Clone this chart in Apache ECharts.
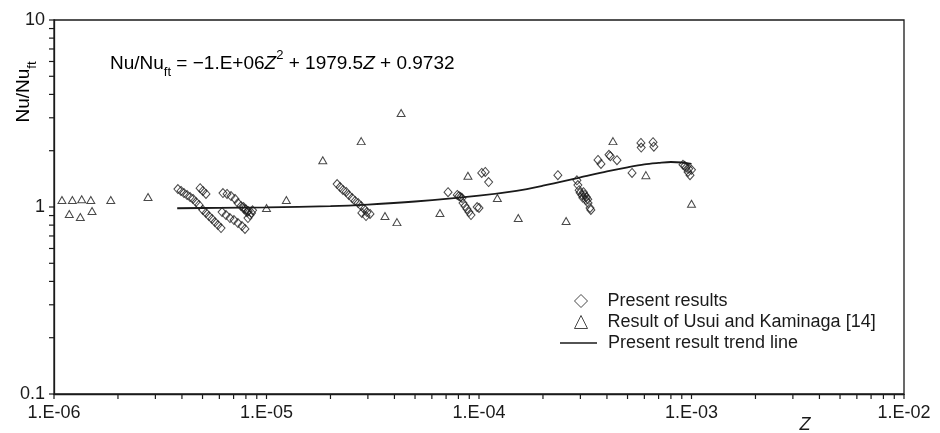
<!DOCTYPE html>
<html>
<head>
<meta charset="utf-8">
<script src="https://cdn.jsdelivr.net/npm/echarts@6/dist/echarts.min.js"></script>
<style>
html,body{margin:0;padding:0;background:#fff}
#wrap{position:relative;width:940px;height:433px}
#c,#t{position:absolute;left:0;top:0;width:940px;height:433px}
#t{pointer-events:none}
</style>
</head>
<body>
<div id="wrap"><div id="c"></div><div id="t"></div></div>
<script>
// ---------- data ----------
const xTickLabels = ['1.E-06', '1.E-05', '1.E-04', '1.E-03', '1.E-02'];
const yTickLabels = ['0.1', '1', '10'];

const presentZ = [
  3.83e-6, 3.96e-6, 4.09e-6, 4.23e-6, 4.37e-6, 4.51e-6, 4.66e-6, 4.81e-6,
  5.02e-6, 5.19e-6, 5.36e-6, 5.54e-6, 5.72e-6, 5.91e-6, 6.11e-6,
  4.87e-6, 5.02e-6, 5.19e-6,
  6.24e-6, 6.52e-6, 6.81e-6, 7.11e-6, 7.34e-6, 7.59e-6, 7.84e-6, 8.09e-6, 8.36e-6, 8.18e-6,
  6.18e-6, 6.45e-6, 6.73e-6, 7.03e-6, 7.34e-6, 7.67e-6, 7.92e-6,
  7.8e-6, 8.0e-6, 8.2e-6, 8.5e-6, 8.6e-6,
  2.15e-5, 2.22e-5, 2.29e-5, 2.37e-5, 2.44e-5, 2.53e-5, 2.61e-5, 2.70e-5, 2.79e-5, 2.88e-5, 2.97e-5, 3.07e-5, 2.81e-5, 2.94e-5,
  7.15e-5, 8.05e-5, 7.9e-5, 8.2e-5, 8.32e-5, 8.41e-5, 8.59e-5, 8.78e-5, 8.97e-5, 9.17e-5, 1.0e-4, 9.8e-5, 1.03e-4, 1.07e-4, 1.11e-4,
  2.35e-4,
  2.89e-4, 2.92e-4, 2.96e-4, 2.99e-4, 3.05e-4, 3.08e-4, 3.15e-4, 3.19e-4, 3.26e-4, 3.33e-4, 3.36e-4, 3.1e-4, 3.2e-4, 3.25e-4,
  3.63e-4, 3.75e-4, 4.09e-4, 4.15e-4, 4.46e-4,
  5.25e-4,
  5.78e-4, 5.8e-4, 6.59e-4, 6.65e-4,
  9.12e-4, 9.42e-4, 9.63e-4, 9.84e-4, 1.0e-3, 9.3e-4, 9.7e-4
];
const presentNu = [
  1.248, 1.218, 1.188, 1.159, 1.131, 1.104, 1.063, 1.025,
  0.964, 0.929, 0.895, 0.863, 0.831, 0.801, 0.772,
  1.26, 1.218, 1.174,
  1.188, 1.174, 1.145, 1.104, 1.05, 1.012, 0.976, 0.94, 0.906, 0.873,
  0.94, 0.906, 0.873, 0.852, 0.82, 0.791, 0.763,
  1.0, 0.97, 0.95, 0.93, 0.96,
  1.327, 1.279, 1.233, 1.203, 1.159, 1.117, 1.077, 1.05, 1.012, 0.976, 0.94, 0.918, 0.929, 0.895,
  1.20, 1.145, 1.16, 1.13, 1.117, 1.05, 1.012, 0.976, 0.94, 0.906, 0.988, 1.0, 1.52, 1.54, 1.36,
  1.48,
  1.39, 1.31, 1.23, 1.19, 1.16, 1.12, 1.16, 1.09, 1.05, 0.988, 0.964, 1.2, 1.13, 1.1,
  1.785, 1.70, 1.90, 1.87, 1.78,
  1.52,
  2.20, 2.08, 2.22, 2.10,
  1.68, 1.62, 1.54, 1.48, 1.58, 1.66, 1.6
];

const usuiZ = [
  1.09e-6, 1.22e-6, 1.35e-6, 1.49e-6, 1.85e-6, 2.77e-6,
  1.18e-6, 1.33e-6, 1.51e-6,
  1.0e-5, 1.24e-5, 1.84e-5, 2.79e-5, 3.61e-5, 4.11e-5, 4.30e-5,
  6.55e-5, 8.87e-5, 1.22e-4, 1.53e-4,
  2.57e-4, 4.27e-4, 6.1e-4, 1.0e-3
];
const usuiNu = [
  1.09, 1.09, 1.10, 1.09, 1.09, 1.13,
  0.918, 0.884, 0.952,
  0.988, 1.09, 1.78, 2.25, 0.895, 0.83, 3.18,
  0.929, 1.47, 1.117, 0.873,
  0.842, 2.25, 1.48, 1.04
];

const trendZ  = [3.8e-6, 6e-6, 1e-5, 2e-5, 3e-5, 5e-5, 1e-4, 1.5e-4, 2e-4, 3e-4, 4e-4, 5e-4, 6e-4, 7e-4, 8e-4, 9e-4, 1e-3];
const trendNu = [0.985, 0.99, 0.995, 1.01, 1.03, 1.07, 1.15, 1.22, 1.30, 1.44, 1.55, 1.63, 1.69, 1.72, 1.74, 1.73, 1.70];

// ---------- build ----------
const pair = (xs, ys) => xs.map((x, i) => [x, ys[i]]);
const FONT = 'Liberation Sans';
const INK = '#1a1a1a';
const X_MIN = 1e-6, X_MAX = 1e-2, Y_MIN = 0.1, Y_MAX = 10;
const GRID = { left: 54, right: 36, top: 20, bottom: 39 };

function logTicks(lo, hi) {
  const out = [];
  for (let e = lo; e < hi; e++) {
    for (let m = 1; m <= 9; m++) out.push(+(m * Math.pow(10, e)).toPrecision(3));
  }
  out.push(+Math.pow(10, hi).toPrecision(3));
  return out;
}

const chart = echarts.init(document.getElementById('c'));
chart.setOption({
  animation: false,
  grid: Object.assign({ show: true, borderColor: INK, borderWidth: 1.3, outerBoundsMode: 'none' }, GRID),
  xAxis: {
    type: 'log', min: X_MIN, max: X_MAX,
    axisLine: { show: true, lineStyle: { color: INK, width: 1.3 } },
    axisTick: { show: false }, splitLine: { show: false },
    axisLabel: {
      formatter: v => xTickLabels[Math.round(Math.log10(v)) + 6],
      fontFamily: FONT, fontSize: 18, color: INK, margin: 10
    }
  },
  yAxis: {
    type: 'log', min: Y_MIN, max: Y_MAX,
    axisLine: { show: true, lineStyle: { color: INK, width: 1.3 } },
    axisTick: { show: false }, splitLine: { show: false },
    axisLabel: {
      formatter: v => yTickLabels[Math.round(Math.log10(v)) + 1],
      fontFamily: FONT, fontSize: 18, color: INK, margin: 9
    }
  },
  legend: [
    {
      data: [{ name: 'Present results', icon: 'diamond' }, { name: 'Result of Usui and Kaminaga [14]', icon: 'triangle' }],
      orient: 'vertical', left: 569, top: 287, itemWidth: 13, itemHeight: 13, itemGap: 3,
      selectedMode: false,
      itemStyle: { borderWidth: 1, borderColor: INK, color: 'rgba(255,255,255,0)' },
      textStyle: { fontFamily: FONT, fontSize: 18, color: INK, lineHeight: 18, padding: [0, 0, 0, 15] }
    },
    {
      data: [{ name: 'Present result trend line', icon: 'rect' }],
      orient: 'vertical', left: 555, top: 329, itemWidth: 37, itemHeight: 1.6,
      selectedMode: false,
      itemStyle: { color: INK, borderWidth: 0 },
      textStyle: { fontFamily: FONT, fontSize: 18, color: INK, lineHeight: 18, padding: [0, 0, 0, 6] }
    }
  ],
  series: [
    {
      name: 'Result of Usui and Kaminaga [14]', type: 'scatter',
      data: pair(usuiZ, usuiNu), symbol: 'triangle', symbolSize: [8, 7],
      itemStyle: { color: 'rgba(255,255,255,0)', borderColor: INK, borderWidth: 1 }
    },
    {
      name: 'Present results', type: 'scatter',
      data: pair(presentZ, presentNu), symbol: 'diamond', symbolSize: [8, 9],
      itemStyle: { color: 'rgba(255,255,255,0)', borderColor: INK, borderWidth: 1 }
    },
    {
      name: 'Present result trend line', type: 'line',
      data: pair(trendZ, trendNu), symbol: 'none', smooth: 0.3,
      lineStyle: { color: INK, width: 1.8 }, itemStyle: { color: INK }
    }
  ],
  graphic: [
    {
      type: 'text', x: 110, y: 64,
      style: {
        text: '{n|Nu/Nu}{sub|ft}{n| = −1.E+06}{i|Z}{sup|2}{n| + 1979.5}{i|Z}{n| + 0.9732}',
        verticalAlign: 'middle', align: 'left',
        rich: {
          n: { fontFamily: FONT, fontSize: 19, color: INK, lineHeight: 30, verticalAlign: 'middle' },
          i: { fontFamily: FONT, fontSize: 19, fontStyle: 'italic', color: INK, lineHeight: 30, verticalAlign: 'middle' },
          sub: { fontFamily: FONT, fontSize: 13, color: INK, lineHeight: 13, verticalAlign: 'bottom' },
          sup: { fontFamily: FONT, fontSize: 13, color: INK, lineHeight: 13, verticalAlign: 'top' }
        }
      }
    },
    {
      type: 'text', x: 24, y: 92, rotation: Math.PI / 2,
      style: {
        text: '{n|Nu/Nu}{sub|ft}',
        align: 'center', verticalAlign: 'middle',
        rich: {
          n: { fontFamily: FONT, fontSize: 19, color: INK, lineHeight: 30, verticalAlign: 'middle' },
          sub: { fontFamily: FONT, fontSize: 13, color: INK, lineHeight: 13, verticalAlign: 'bottom' }
        }
      }
    },
    {
      type: 'text', x: 805, y: 425,
      style: { text: 'Z', fontFamily: FONT, fontSize: 18, fontStyle: 'italic', fill: INK, align: 'center', verticalAlign: 'middle' }
    }
  ]
});

// ---------- tick overlay: same grid and log axes, only the 1..9-per-decade tick marks ----------
const tchart = echarts.init(document.getElementById('t'));
tchart.setOption({
  animation: false,
  grid: Object.assign({ show: false, outerBoundsMode: 'none' }, GRID),
  xAxis: { type: 'log', min: X_MIN, max: X_MAX, axisLine: { show: false }, axisTick: { show: false }, axisLabel: { show: false }, splitLine: { show: false } },
  yAxis: { type: 'log', min: Y_MIN, max: Y_MAX, axisLine: { show: false }, axisTick: { show: false }, axisLabel: { show: false }, splitLine: { show: false } },
  series: [{ type: 'scatter', data: [], silent: true }]
});
try {
  const yBase = tchart.convertToPixel({ yAxisIndex: 0 }, Y_MIN);
  const xBase = tchart.convertToPixel({ xAxisIndex: 0 }, X_MIN);
  const ticks = [];
  logTicks(-6, -2).forEach(v => {
    const px = tchart.convertToPixel({ xAxisIndex: 0 }, v);
    ticks.push({ type: 'line', shape: { x1: px, y1: yBase, x2: px, y2: yBase + 5 }, style: { stroke: INK, lineWidth: 1.2 } });
  });
  logTicks(-1, 1).forEach(v => {
    const py = tchart.convertToPixel({ yAxisIndex: 0 }, v);
    ticks.push({ type: 'line', shape: { x1: xBase - 5, y1: py, x2: xBase, y2: py }, style: { stroke: INK, lineWidth: 1.2 } });
  });
  tchart.setOption({ graphic: ticks });
} catch (e) { /* ticks are decoration only */ }
</script>
</body>
</html>
